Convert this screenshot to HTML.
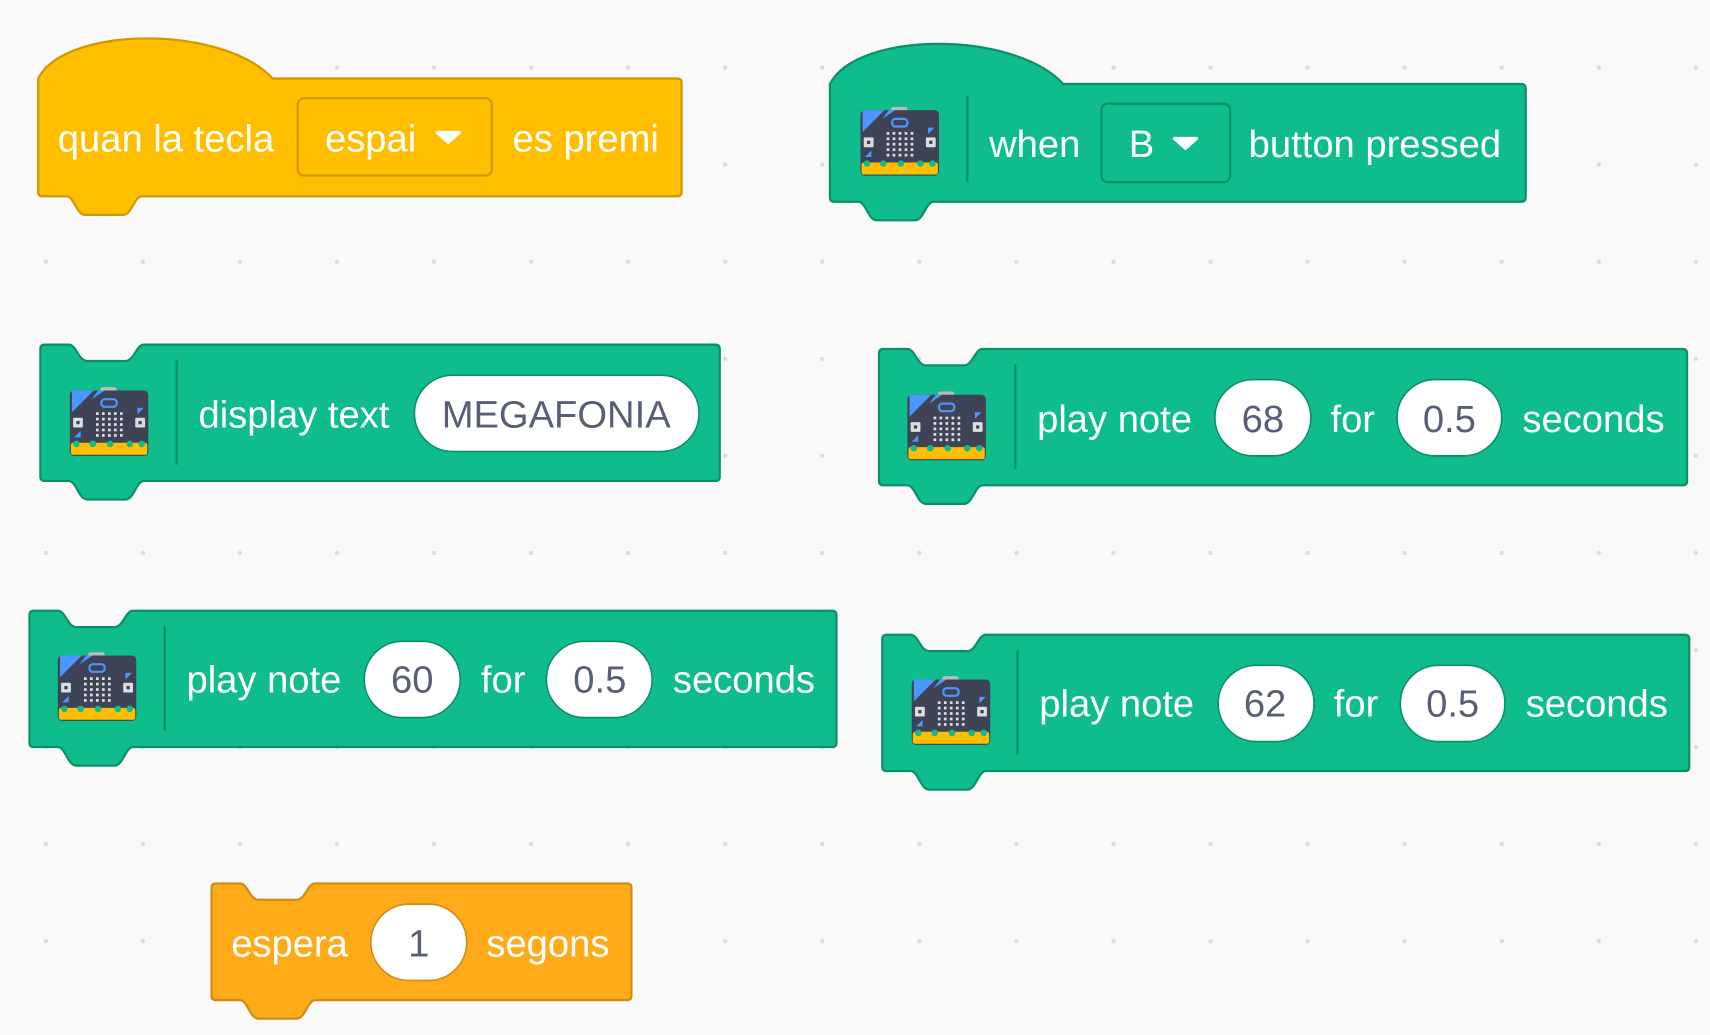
<!DOCTYPE html>
<html><head><meta charset="utf-8"><style>
html,body{margin:0;padding:0;background:#f9f9f9;width:1710px;height:1035px;overflow:hidden}
svg{display:block}
text{font-family:"Liberation Sans",Arial,sans-serif;font-size:35px;fill:#fff}
.p{fill:#575e75;text-anchor:middle}
</style></head><body>
<svg id="s" width="1710" height="1035" viewBox="0 0 1568 949" preserveAspectRatio="none">
<g id="dots"></g>
<g id="blocks"></g>
<g id="txt">
<text x="53" y="139">quan la tecla</text>
<text x="298" y="139">espai</text>
<text x="470" y="139">es premi</text>
<text x="907" y="144">when</text>
<text x="1035" y="144">B</text>
<text x="1145" y="144">button pressed</text>
<text x="182" y="392">display text</text>
<text class="p" x="510" y="392">MEGAFONIA</text>
<text x="951" y="396">play note</text>
<text class="p" x="1158" y="396">68</text>
<text x="1220" y="396">for</text>
<text class="p" x="1329" y="396">0.5</text>
<text x="1396" y="396">seconds</text>
<text x="171" y="635">play note</text>
<text class="p" x="378" y="635">60</text>
<text x="441" y="635">for</text>
<text class="p" x="550" y="635">0.5</text>
<text x="617" y="635">seconds</text>
<text x="953" y="657">play note</text>
<text class="p" x="1160" y="657">62</text>
<text x="1223" y="657">for</text>
<text class="p" x="1332" y="657">0.5</text>
<text x="1399" y="657">seconds</text>
<text x="212" y="877">espera</text>
<text class="p" x="384" y="877">1</text>
<text x="446" y="877">segons</text>
</g>
</svg>
<script>
var NS="http://www.w3.org/2000/svg";
function el(p,t,a){var e=document.createElementNS(NS,t);for(var k in a)e.setAttribute(k,a[k]);p.appendChild(e);return e;}
var d=document.getElementById('dots'),b=document.getElementById('blocks');
for(var x=42;x<1568;x+=89)for(var y=62;y<949;y+=89)el(d,'circle',{cx:x,cy:y,r:2,fill:'#dcdcdc'});
function bottom(x0,x1,y1){return ' L'+x1+' '+(y1-4)+' Q'+x1+' '+y1+' '+(x1-4)+' '+y1+
 ' L'+(x0+95)+' '+y1+' C'+(x0+88)+' '+y1+' '+(x0+86)+' '+(y1+17)+' '+(x0+78)+' '+(y1+17)+' L'+(x0+43)+' '+(y1+17)+' C'+(x0+35)+' '+(y1+17)+' '+(x0+33)+' '+y1+' '+(x0+26)+' '+y1+
 ' L'+(x0+4)+' '+y1+' Q'+x0+' '+y1+' '+x0+' '+(y1-4)+' Z';}
function stack(x0,y0,x1,y1,f,s){
 var p='M'+x0+' '+(y0+4)+' Q'+x0+' '+y0+' '+(x0+4)+' '+y0+' L'+(x0+26)+' '+y0+' C'+(x0+33)+' '+y0+' '+(x0+35)+' '+(y0+15)+' '+(x0+43)+' '+(y0+15)+' L'+(x0+78)+' '+(y0+15)+' C'+(x0+86)+' '+(y0+15)+' '+(x0+88)+' '+y0+' '+(x0+95)+' '+y0+
 ' L'+(x1-4)+' '+y0+' Q'+x1+' '+y0+' '+x1+' '+(y0+4)+bottom(x0,x1,y1);
 el(b,'path',{d:p,fill:f,stroke:s,'stroke-width':2});}
function hat(x0,y0,x1,y1,px,py,w,f,s){
 var p='M'+x0+' '+y0+' C'+(x0+25)+' '+(py-12)+' '+(x0+w-45)+' '+(py-12)+' '+(x0+w)+' '+y0+
 ' L'+(x1-4)+' '+y0+' Q'+x1+' '+y0+' '+x1+' '+(y0+4)+bottom(x0,x1,y1);
 el(b,'path',{d:p,fill:f,stroke:s,'stroke-width':2});}
function pill(x0,y0,x1,y1){el(b,'rect',{x:x0,y:y0,width:x1-x0,height:y1-y0,rx:(y1-y0)/2,fill:'#fff',stroke:'#0b8e69','stroke-width':1.5});}
function drop(x0,y0,x1,y1,f,s,ax){el(b,'rect',{x:x0,y:y0,width:x1-x0,height:y1-y0,rx:6,fill:f,stroke:s,'stroke-width':2});
 var cy=(y0+y1)/2;el(b,'path',{d:'M'+(ax-10)+' '+(cy-4)+' L'+(ax+10)+' '+(cy-4)+' L'+ax+' '+(cy+5)+' Z',fill:'#fff','stroke-linejoin':'round',stroke:'#fff','stroke-width':3});}
function sep(x,y0,y1){el(b,'line',{x1:x,y1:y0,x2:x,y2:y1,stroke:'#0b8e69','stroke-width':2});}
function icon(x,y){var w=72,h=60;
 el(b,'rect',{x:x+28,y:y-3,width:15,height:6,rx:2,fill:'#bbb'});
 el(b,'rect',{x:x,y:y,width:w,height:h,rx:4,fill:'#3f4356'});
 el(b,'path',{d:'M'+(x+2)+' '+y+' L'+(x+22)+' '+y+' L'+(x+2)+' '+(y+20)+' Z',fill:'#4c97ff'});
 el(b,'path',{d:'M'+(x+20)+' '+(y+8)+' L'+(x+26)+' '+y+' L'+(x+32)+' '+y+' Z',fill:'#4c97ff'});
 el(b,'path',{d:'M'+(x+62)+' '+(y+16)+' L'+(x+68)+' '+(y+16)+' L'+(x+62)+' '+(y+22)+' Z',fill:'#4c97ff'});
 el(b,'path',{d:'M'+(x+10)+' '+(y+43)+' L'+(x+10)+' '+(y+37)+' L'+(x+4)+' '+(y+43)+' Z',fill:'#4c97ff'});
 el(b,'rect',{x:x+36-7,y:y+8,width:14,height:7,rx:3,fill:'none',stroke:'#4c97ff','stroke-width':2});
 for(var i=0;i<5;i++)for(var j=0;j<5;j++)el(b,'rect',{x:x+24+i*5.5,y:y+20+j*5,width:2.5,height:2.5,fill:'#ddd'});
 el(b,'rect',{x:x+3,y:y+25,width:9,height:9,rx:1,fill:'#ddd'});el(b,'rect',{x:x+6,y:y+28,width:3,height:3,fill:'#3f4356'});
 el(b,'rect',{x:x+w-12,y:y+25,width:9,height:9,rx:1,fill:'#ddd'});el(b,'rect',{x:x+w-9,y:y+28,width:3,height:3,fill:'#3f4356'});
 el(b,'rect',{x:x+1,y:y+h-12,width:w-2,height:11,rx:2,fill:'#ffbf00'});
 [6,21,37,55,66].forEach(function(o){el(b,'circle',{cx:x+o,cy:y+h-11,r:3,fill:'#0fbd8c'});});}
var G='#0fbd8c',GS='#0b8e69';
hat(35,72,625,180,145,35,215,'#ffbf00','#cc9900');
drop(273,90,451,161,'#ffbf00','#cc9900',411);
hat(761,77,1399,185,870,40,214,G,GS);
icon(789,101);sep(887,88,167);
drop(1010,95,1128,167,G,GS,1087);
stack(37,316,660,441,G,GS);icon(64,358);sep(162,330,426);pill(380,344,641,414);
stack(806,320,1547,445,G,GS);icon(832,362);sep(931,334,430);pill(1114,348,1202,418);pill(1281,348,1377,418);
stack(27,560,767,685,G,GS);icon(53,601);sep(151,574,670);pill(334,588,422,658);pill(501,588,598,658);
stack(809,582,1549,707,G,GS);icon(836,623);sep(933,596,692);pill(1117,610,1205,680);pill(1284,610,1380,680);
stack(194,810,579,917,'#ffab19','#cf8b17');
el(b,'rect',{x:340,y:829,width:88,height:70,rx:35,fill:'#fff',stroke:'#cf8b17','stroke-width':1.5});
</script>
</body></html>
